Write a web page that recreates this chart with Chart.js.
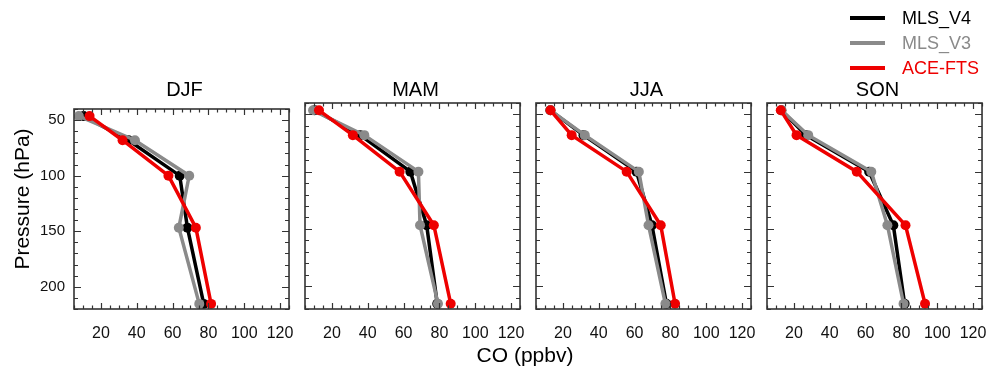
<!DOCTYPE html>
<html>
<head>
<meta charset="utf-8">
<script src="https://cdn.jsdelivr.net/npm/chart.js@4.4.0/dist/chart.umd.min.js"></script>
<style>
body { margin: 0; background: #fff; font-family: "Liberation Sans", Arial, sans-serif; }
#wrap { position: relative; width: 995px; height: 369px; overflow: hidden; background: #fff; }
canvas { position: absolute; }
.txt { position: absolute; white-space: nowrap; color: #000; }
.key { position: absolute; height: 4px; width: 35px; left: 850px; }
</style>
</head>
<body>
<div id="wrap"></div>
<script>
// pressure levels (hPa) shared by every profile
var pressures = [46.4, 68.1, 100, 146.8, 215.4];
var seasons = ['DJF', 'MAM', 'JJA', 'SON'];
var xTicks = [20, 40, 60, 80, 100, 120];
var yTicks = [50, 100, 150, 200];

// CO (ppbv), one row per season, same order as pressures
var mlsV4 = [
    [10.4, 35.4, 64.0, 68.3, 77.4],
    [10.4, 35.8, 63.8, 72.9, 78.8],
    [13.0, 31.5, 61.1, 69.7, 77.8],
    [13.0, 26.7, 62.0, 75.5, 81.8]
];
var mlsV3 = [
    [7.7, 39.0, 69.3, 63.5, 74.9],
    [9.5, 38.1, 68.3, 69.2, 79.2],
    [13.1, 32.2, 62.4, 67.8, 77.2],
    [13.1, 28.0, 63.2, 72.2, 81.2]
];
var aceFts = [
    [13.7, 32.1, 57.7, 73.0, 81.5],
    [12.8, 31.7, 57.8, 76.9, 86.3],
    [13.1, 24.9, 55.6, 74.6, 82.6],
    [12.7, 21.5, 55.1, 82.3, 93.2]
];

var seriesNames = ['MLS_V4', 'MLS_V3', 'ACE-FTS'];
var seriesColors = ['#000000', '#8a8a8a', '#ee0000'];

var wrap = document.getElementById('wrap');
var FONT = '"Liberation Sans", Arial, sans-serif';

var panelLeft = [74, 305, 536, 767];
var panelTop = 103, panelW = 221, panelH = 206;

function addText(text, css) {
    var d = document.createElement('div');
    d.className = 'txt';
    d.textContent = text;
    d.style.cssText += css;
    wrap.appendChild(d);
    return d;
}

function toPoints(vals) {
    var pts = [];
    for (var i = 0; i < vals.length; i++) {
        pts.push({x: vals[i], y: pressures[i]});
    }
    return pts;
}

// frame with inward ticks on all four sides
var frameTicks = {
    id: 'frameTicks',
    afterDatasetsDraw: function(chart) {
        var ctx = chart.ctx, a = chart.chartArea;
        var xs = chart.scales.x, ys = chart.scales.y;
        ctx.save();
        ctx.strokeStyle = '#333';
        ctx.lineWidth = 1.2;
        ctx.beginPath();
        for (var v = 5; v <= 125; v += 5) {
            var px = Math.round(xs.getPixelForValue(v)) + 0.5;
            var len = v % 20 === 0 ? 6 : 3.5;
            ctx.moveTo(px, a.bottom); ctx.lineTo(px, a.bottom - len);
            ctx.moveTo(px, a.top); ctx.lineTo(px, a.top + len);
        }
        for (var p = 40; p <= 220; p += 10) {
            var py = Math.round(ys.getPixelForValue(p)) + 0.5;
            var l2 = p % 50 === 0 ? 7 : 4;
            ctx.moveTo(a.left, py); ctx.lineTo(a.left + l2, py);
            ctx.moveTo(a.right, py); ctx.lineTo(a.right - l2, py);
        }
        ctx.stroke();
        ctx.lineWidth = 1.6;
        ctx.strokeRect(a.left, a.top, a.right - a.left, a.bottom - a.top);
        ctx.restore();
    }
};

seasons.forEach(function(season, i) {
    var cv = document.createElement('canvas');
    cv.width = panelW + 50 + 14;
    cv.height = panelH + 12 + 40;
    cv.style.left = (panelLeft[i] - 50) + 'px';
    cv.style.top = (panelTop - 12) + 'px';
    wrap.appendChild(cv);

    var rows = [mlsV4[i], mlsV3[i], aceFts[i]];
    var orders = [2, 1, 0];
    var datasets = rows.map(function(r, k) {
        return {
            label: seriesNames[k],
            data: toPoints(r),
            borderColor: seriesColors[k],
            backgroundColor: seriesColors[k],
            borderWidth: 3.5,
            pointRadius: 5,
            pointHoverRadius: 5,
            pointBorderWidth: 0,
            tension: 0,
            fill: false,
            order: orders[k]
        };
    });

    new Chart(cv.getContext('2d'), {
        type: 'line',
        data: { datasets: datasets },
        options: {
            responsive: false,
            animation: false,
            layout: { padding: { top: 12, right: 14, left: 0, bottom: 0 } },
            plugins: { legend: { display: false }, tooltip: { enabled: false } },
            scales: {
                x: {
                    type: 'linear',
                    min: 5, max: 125,
                    grid: { display: false, drawTicks: false },
                    border: { display: false },
                    afterBuildTicks: function(s) { s.ticks = xTicks.map(function(v) { return {value: v}; }); },
                    afterFit: function(s) { s.height = 40; },
                    ticks: { padding: 15, color: '#111', maxRotation: 0, autoSkip: false,
                             font: { family: FONT, size: 16 } }
                },
                y: {
                    type: 'linear',
                    reverse: true,
                    min: 40, max: 220,
                    grid: { display: false, drawTicks: false },
                    border: { display: false },
                    afterBuildTicks: function(s) { s.ticks = yTicks.map(function(v) { return {value: v}; }); },
                    afterFit: function(s) { s.width = 50; },
                    ticks: { display: i === 0, padding: 9, color: '#111', autoSkip: false,
                             font: { family: FONT, size: 15 } }
                }
            }
        },
        plugins: [frameTicks]
    });

    addText(season, 'left:' + panelLeft[i] + 'px;top:78px;width:' + panelW +
        'px;text-align:center;font-size:20px;line-height:22px;');
});

// axis titles
addText('CO (ppbv)', 'left:425px;top:343px;width:200px;text-align:center;font-size:21px;line-height:24px;');
addText('Pressure (hPa)', 'left:-78px;top:187px;width:200px;height:24px;text-align:center;' +
    'font-size:21px;line-height:24px;transform:rotate(-90deg);');

// legend
var keyY = [18, 43, 68];
seriesNames.forEach(function(name, k) {
    var ln = document.createElement('div');
    ln.className = 'key';
    ln.style.top = (keyY[k] - 2) + 'px';
    ln.style.background = seriesColors[k];
    wrap.appendChild(ln);
    addText(name, 'left:902px;top:' + (keyY[k] - 11) + 'px;font-size:18px;line-height:22px;color:' + seriesColors[k] + ';');
});
</script>
</body>
</html>
